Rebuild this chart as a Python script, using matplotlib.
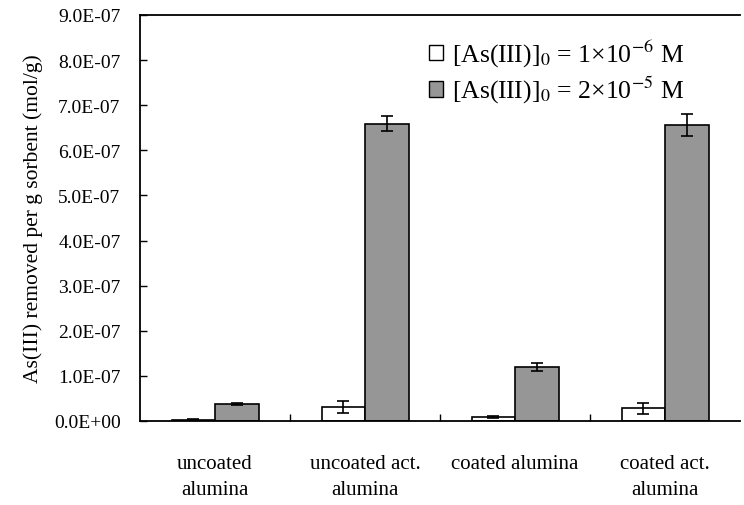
import matplotlib
matplotlib.use("Agg")
import matplotlib.pyplot as plt
import numpy as np
from matplotlib.patches import Patch

categories = ["uncoated\nalumina", "uncoated act.\nalumina", "coated alumina", "coated act.\nalumina"]
low_conc = [3e-9, 3.1e-8, 8e-9, 2.8e-8]
low_err = [1e-9, 1.4e-8, 2e-9, 1.15e-8]
high_conc = [3.8e-8, 6.59e-7, 1.20e-7, 6.56e-7]
high_err = [3e-9, 1.6e-8, 9e-9, 2.5e-8]
yticks = [i * 1e-7 for i in range(10)]
ytick_labels = ["0.0E+00", "1.0E-07", "2.0E-07", "3.0E-07", "4.0E-07",
                "5.0E-07", "6.0E-07", "7.0E-07", "8.0E-07", "9.0E-07"]
legend_labels = [r"[As(III)]$_0$ = 1×10$^{-6}$ M", r"[As(III)]$_0$ = 2×10$^{-5}$ M"]

plt.rcParams["font.family"] = ["Liberation Serif", "DejaVu Serif"]
plt.rcParams["mathtext.fontset"] = "stix"

fig = plt.figure(figsize=(7.44, 5.06), dpi=100)
ax = fig.add_axes([140/744, (506-422)/506, 600/744, 406/506])

x = np.arange(len(categories))
w = 0.29
gray = "#969696"
ekw = dict(elinewidth=1.2, capthick=1.2, ecolor="black")
ax.bar(x - w/2, low_conc, w, color="white", edgecolor="black", linewidth=1.2,
       yerr=low_err, capsize=4, error_kw=ekw, zorder=2)
ax.bar(x + w/2, high_conc, w, color=gray, edgecolor="black", linewidth=1.2,
       yerr=high_err, capsize=4, error_kw=ekw, zorder=2)

ax.set_xlim(-0.5, 3.5)
ax.set_ylim(0, 9e-7)
ax.set_yticks(yticks)
ax.set_yticklabels(ytick_labels, fontsize=14)
ax.tick_params(axis="y", direction="in", length=5, width=1, pad=14)
ax.set_xticks(x)
ax.set_xticklabels(categories, fontsize=15, linespacing=1.45)
ax.tick_params(axis="x", which="major", length=0, pad=24)
ax.set_xticks([0.5, 1.5, 2.5], minor=True)
ax.tick_params(axis="x", which="minor", direction="in", length=5, width=1)

ax.spines["right"].set_visible(False)
for s in ["left", "top", "bottom"]:
    ax.spines[s].set_linewidth(1.3)

ax.set_ylabel("As(III) removed per g sorbent (mol/g)", fontsize=15.5, labelpad=8)

handles = [Patch(facecolor="white", edgecolor="black", linewidth=1),
           Patch(facecolor=gray, edgecolor="black", linewidth=1)]
ax.legend(handles, legend_labels, loc="upper left", bbox_to_anchor=(0.443, 1.0),
          frameon=False, fontsize=18.5, handlelength=0.55, handleheight=0.55,
          handletextpad=0.35, labelspacing=0.2)

fig.savefig("out.png", dpi=100)
